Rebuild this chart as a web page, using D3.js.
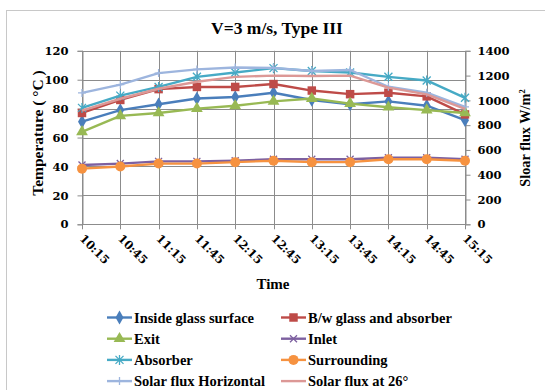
<!DOCTYPE html>
<html>
<head>
<meta charset="utf-8">
<script src="https://cdn.jsdelivr.net/npm/d3@7"></script>
<style>
  body { margin: 0; background: #fff; }
  svg text { font-family: "Liberation Serif", "DejaVu Serif", serif; font-weight: bold; fill: #000; }
  svg text.num { font-family: "DejaVu Serif", serif; }
</style>
</head>
<body>
<div id="chart"></div>
<script>
(function() {

  var width = 545, height = 390;

  // data
  var times = ["10:15", "10:45", "11:15", "11:45", "12:15", "12:45", "13:15", "13:45", "14:15", "14:45", "15:15"];
  var insideGlass = [71, 79, 83, 87, 88, 91, 86, 83, 85, 82, 72];
  var glassAbsorber = [77, 86, 93.5, 95, 95, 97, 92.5, 90, 91, 88.5, 76];
  var exitTemp = [64, 75, 77, 80, 82, 85, 87, 83.5, 81, 79, 77];
  var inletTemp = [41, 42, 43.5, 43.5, 44, 45, 45, 45, 46, 46, 45];
  var absorber = [80.5, 89, 95, 102, 105, 108, 106, 105, 102, 99.5, 87.5];
  var surrounding = [38.5, 40, 42, 42, 43, 44, 43, 43, 45, 45, 44];
  var fluxHorizontal = [1060, 1127, 1220, 1250, 1265, 1262, 1237, 1245, 1110, 1062, 948];
  var flux26 = [918, 1013, 1094, 1150, 1190, 1200, 1197, 1200, 1103, 1048, 932];
  var tempTicks = [0, 20, 40, 60, 80, 100, 120];
  var fluxTicks = [0, 200, 400, 600, 800, 1000, 1200, 1400];

  var series = [
    { name: "Inside glass surface", values: insideGlass, axis: "left", color: "#4a7ebb", marker: "diamond" },
    { name: "B/w glass and absorber", values: glassAbsorber, axis: "left", color: "#be4b48", marker: "square" },
    { name: "Exit", values: exitTemp, axis: "left", color: "#98b954", marker: "triangle" },
    { name: "Inlet", values: inletTemp, axis: "left", color: "#7d60a0", marker: "x" },
    { name: "Absorber", values: absorber, axis: "left", color: "#46aac5", marker: "star" },
    { name: "Surrounding", values: surrounding, axis: "left", color: "#f69240", marker: "circle" },
    { name: "Solar flux Horizontal", values: fluxHorizontal, axis: "right", color: "#9db5de", marker: "plus" },
    { name: "Solar flux at 26\u00b0", values: flux26, axis: "right", color: "#dc9896", marker: "none" }
  ];

  var left = 82, right = 465, top = 50.8, bottom = 224.3;

  var svg = d3.select("#chart").append("svg")
    .attr("width", width)
    .attr("height", height);

  // outer chart frame
  svg.append("rect")
    .attr("x", 6.5).attr("y", 10.5)
    .attr("width", 560).attr("height", 400)
    .attr("fill", "#fff")
    .attr("stroke", "#c8c8c8");

  var x = d3.scalePoint().domain(times).range([left, right]);
  var yL = d3.scaleLinear().domain([0, 120]).range([bottom, top]);
  var yR = d3.scaleLinear().domain([0, 1400]).range([bottom, top]);

  var gridColor = "#8c8c8c";

  // grid
  svg.append("g").selectAll("line.h")
    .data(tempTicks).enter().append("line")
    .attr("x1", left).attr("x2", right)
    .attr("y1", function(d) { return Math.round(yL(d)) + 0.5; })
    .attr("y2", function(d) { return Math.round(yL(d)) + 0.5; })
    .attr("stroke", gridColor);
  svg.append("g").selectAll("line.v")
    .data(times).enter().append("line")
    .attr("x1", function(d) { return Math.round(x(d)) + 0.5; })
    .attr("x2", function(d) { return Math.round(x(d)) + 0.5; })
    .attr("y1", top).attr("y2", bottom + 5)
    .attr("stroke", gridColor);

  // axes
  var leftAxis = svg.append("g")
    .attr("transform", "translate(" + (Math.round(left) + 0.5) + ",0)")
    .call(d3.axisLeft(yL).tickValues(tempTicks).tickFormat(d3.format("d")).tickSize(5).tickPadding(9));
  var rightAxis = svg.append("g")
    .attr("transform", "translate(" + (Math.round(right) + 0.5) + ",0)")
    .call(d3.axisRight(yR).tickValues(fluxTicks).tickFormat(d3.format("d")).tickSize(5).tickPadding(7));
  [leftAxis, rightAxis].forEach(function(g) {
    g.select(".domain").attr("stroke", gridColor);
    g.selectAll(".tick line").attr("stroke", gridColor);
    g.selectAll(".tick text").attr("class", "num").style("font-size", "11.5px").attr("fill", "#000");
  });

  // x labels, rotated
  svg.append("g").selectAll("text")
    .data(times).enter().append("text")
    .attr("class", "num")
    .attr("transform", function(d) { return "translate(" + (x(d) - 3) + "," + (bottom + 15) + ") rotate(45)"; })
    .style("font-size", "11.5px")
    .text(function(d) { return d; });

  // titles
  svg.append("text")
    .attr("x", 277).attr("y", 34)
    .attr("text-anchor", "middle")
    .style("font-size", "17.5px")
    .text("V=3 m/s, Type III");
  svg.append("text")
    .attr("x", 273).attr("y", 289)
    .attr("text-anchor", "middle")
    .style("font-size", "15px")
    .text("Time");
  svg.append("text")
    .attr("transform", "translate(43,133) rotate(-90)")
    .attr("text-anchor", "middle")
    .style("font-size", "15.5px")
    .text("Temperature ( \u00b0C )");
  var rt = svg.append("text")
    .attr("transform", "translate(530,138) rotate(-90)")
    .attr("text-anchor", "middle")
    .style("font-size", "14.3px");
  rt.append("tspan").text("Sloar flux W/m");
  rt.append("tspan").attr("dy", -5).style("font-size", "8.5px").text("2");

  function markerPath(g, type, color) {
    if (type === "diamond") {
      g.append("path").attr("d", d3.symbol(d3.symbolDiamond, 55)()).attr("fill", color);
    } else if (type === "square") {
      g.append("path").attr("d", d3.symbol(d3.symbolSquare, 72)()).attr("fill", color);
    } else if (type === "triangle") {
      g.append("path").attr("d", d3.symbol(d3.symbolTriangle, 60)()).attr("fill", color);
    } else if (type === "circle") {
      g.append("circle").attr("r", 5).attr("fill", color);
    } else if (type === "x") {
      g.append("path").attr("d", "M-3.5,-3.5L3.5,3.5M-3.5,3.5L3.5,-3.5")
        .attr("stroke", color).attr("stroke-width", 1.3).attr("fill", "none");
    } else if (type === "star") {
      g.append("path").attr("d", "M-4,-4L4,4M-4,4L4,-4M0,-5L0,5")
        .attr("stroke", color).attr("stroke-width", 1.3).attr("fill", "none");
    } else if (type === "plus") {
      g.append("path").attr("d", "M0,-4L0,4M-4,0L4,0")
        .attr("stroke", color).attr("stroke-width", 1.3).attr("fill", "none");
    }
  }

  // series lines and markers
  series.forEach(function(s) {
    var yScale = s.axis === "left" ? yL : yR;
    var line = d3.line()
      .x(function(d, i) { return x(times[i]); })
      .y(function(d) { return yScale(d); });
    var g = svg.append("g");
    g.append("path")
      .datum(s.values)
      .attr("d", line)
      .attr("fill", "none")
      .attr("stroke", s.color)
      .attr("stroke-width", 2.4)
      .attr("stroke-linejoin", "round");
    g.selectAll("g.m")
      .data(s.values).enter().append("g")
      .attr("transform", function(d, i) { return "translate(" + x(times[i]) + "," + yScale(d) + ")"; })
      .each(function() { markerPath(d3.select(this), s.marker, s.color); });
  });

  // legend
  var legend = svg.append("g");
  series.forEach(function(s, i) {
    var col = i % 2, row = Math.floor(i / 2);
    var lx = col === 0 ? 107 : 281;
    var ly = 317.5 + row * 21.2;
    var item = legend.append("g").attr("transform", "translate(" + lx + "," + ly + ")");
    item.append("line")
      .attr("x1", 0).attr("x2", 25)
      .attr("stroke", s.color).attr("stroke-width", 2.4);
    var m = item.append("g").attr("transform", "translate(12.5,0)");
    markerPath(m, s.marker, s.color);
    item.append("text")
      .attr("x", 27).attr("y", 5)
      .style("font-size", "14.5px")
      .text(s.name);
  });

})();
</script>
</body>
</html>
